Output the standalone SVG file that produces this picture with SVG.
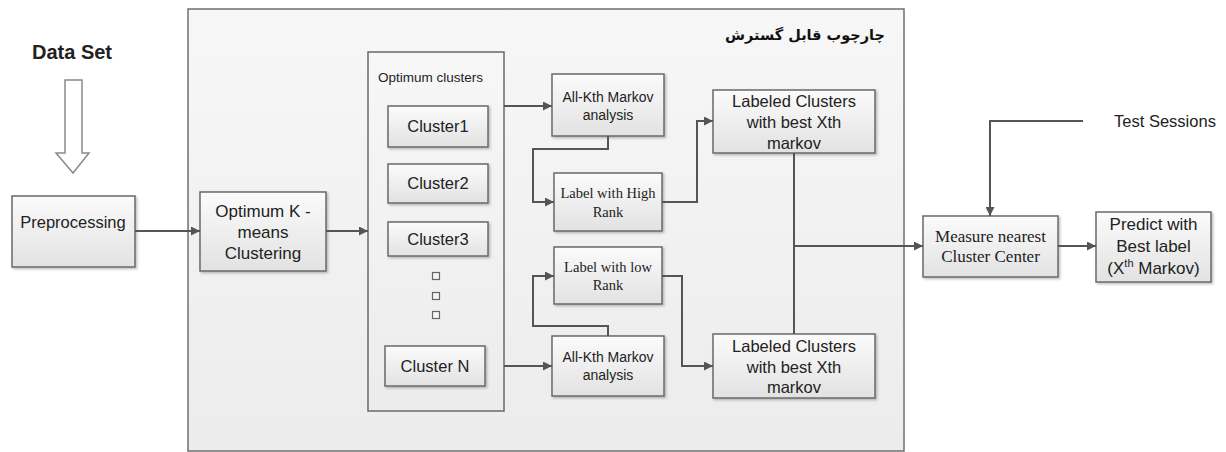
<svg xmlns="http://www.w3.org/2000/svg" width="1226" height="452" viewBox="0 0 1226 452">
  <defs>
    <linearGradient id="boxg" x1="0" y1="0" x2="0" y2="1">
      <stop offset="0" stop-color="#fbfbfb"/>
      <stop offset="1" stop-color="#e2e2e2"/>
    </linearGradient>
    <linearGradient id="frameg" x1="0" y1="0" x2="0" y2="1">
      <stop offset="0" stop-color="#f7f7f7"/>
      <stop offset="1" stop-color="#ececec"/>
    </linearGradient>
    <filter id="sh" x="-10%" y="-10%" width="130%" height="130%">
      <feDropShadow dx="1.5" dy="1.5" stdDeviation="1" flood-color="#000" flood-opacity="0.25"/>
    </filter>
    <marker id="arr" viewBox="0 0 10 10" refX="10" refY="5" markerWidth="9" markerHeight="9" markerUnits="userSpaceOnUse" orient="auto">
      <path d="M0,0 L10,5 L0,10 Z" fill="#555"/>
    </marker>
    <style>
      .box { fill: url(#boxg); stroke: #6a6a6a; stroke-width: 1.5; filter: url(#sh); }
      .frame { fill: url(#frameg); stroke: #707070; stroke-width: 1.5; }
      .inner { fill: url(#frameg); stroke: #6a6a6a; stroke-width: 1.5; }
      .sq { fill: #f4f4f4; stroke: #666; stroke-width: 1.2; }
      .t { font-family: "Liberation Sans", Arial, sans-serif; fill: #222; text-anchor: middle; dominant-baseline: central; }
      .s { font-family: "Liberation Serif", "Times New Roman", serif; fill: #222; text-anchor: middle; dominant-baseline: central; }
      .c { fill: none; stroke: #555; stroke-width: 2; }
      .ca { fill: none; stroke: #555; stroke-width: 2; marker-end: url(#arr); }
    </style>
  </defs>
  <rect x="0" y="0" width="1226" height="452" fill="#ffffff"/>

  <g id="frame">
    <rect class="frame" x="188" y="9" width="716" height="442"/>
    <text x="805" y="35" font-family="'DejaVu Sans', 'Noto Sans', sans-serif" font-weight="bold" font-size="14.5" fill="#111" text-anchor="middle" dominant-baseline="central" direction="rtl">چارچوب قابل گسترش</text>
  </g>

  <g id="dataset">
    <text class="t" x="72" y="52" font-size="20" font-weight="bold" fill="#111">Data Set</text>
    <path d="M65,80 L82,80 L82,153 L89,153 L73,173 L56,153 L65,153 Z" fill="#ffffff" stroke="#8a8a8a" stroke-width="1.5"/>
  </g>

  <g id="preprocessing">
    <rect class="box" x="12" y="196" width="123" height="71"/>
    <text class="t" x="73" y="222" font-size="16.5">Preprocessing</text>
  </g>

  <g id="kmeans">
    <rect class="box" x="200" y="192" width="126" height="79"/>
    <text class="t" x="263" y="211" font-size="17">Optimum K -</text>
    <text class="t" x="263" y="232" font-size="17">means</text>
    <text class="t" x="263" y="253" font-size="17">Clustering</text>
  </g>

  <g id="optimum-clusters">
    <rect class="inner" x="368" y="52" width="136" height="359"/>
    <text class="t" x="430.5" y="77" font-size="13.5">Optimum clusters</text>
  </g>

  <g id="cluster1">
    <rect class="box" x="388" y="106" width="100" height="41"/>
    <text class="t" x="438" y="126" font-size="16.5">Cluster1</text>
  </g>
  <g id="cluster2">
    <rect class="box" x="388" y="164" width="100" height="39"/>
    <text class="t" x="438" y="183" font-size="16.5">Cluster2</text>
  </g>
  <g id="cluster3">
    <rect class="box" x="388" y="222" width="100" height="34"/>
    <text class="t" x="438" y="239" font-size="16.5">Cluster3</text>
  </g>
  <g id="dots">
    <rect class="sq" x="432.5" y="272.5" width="7" height="7"/>
    <rect class="sq" x="432.5" y="292.5" width="7" height="7"/>
    <rect class="sq" x="432.5" y="311.5" width="7" height="7"/>
  </g>
  <g id="clusterN">
    <rect class="box" x="385" y="346" width="100" height="40"/>
    <text class="t" x="435" y="366" font-size="16.5">Cluster N</text>
  </g>

  <g id="allkth-top">
    <rect class="box" x="552" y="74" width="112" height="62"/>
    <text class="t" x="608" y="97" font-size="14">All-Kth Markov</text>
    <text class="t" x="608" y="115" font-size="14">analysis</text>
  </g>
  <g id="label-high">
    <rect class="box" x="554" y="173" width="108" height="58"/>
    <text class="s" x="608" y="193" font-size="14.5">Label with High</text>
    <text class="s" x="608" y="212" font-size="14.5">Rank</text>
  </g>
  <g id="label-low">
    <rect class="box" x="554" y="247" width="108" height="57"/>
    <text class="s" x="608" y="267" font-size="14.5">Label with low</text>
    <text class="s" x="608" y="285" font-size="14.5">Rank</text>
  </g>
  <g id="allkth-bottom">
    <rect class="box" x="552" y="336" width="112" height="60"/>
    <text class="t" x="608" y="357" font-size="14">All-Kth Markov</text>
    <text class="t" x="608" y="375" font-size="14">analysis</text>
  </g>

  <g id="labeled-top">
    <rect class="box" x="713" y="90" width="162" height="63"/>
    <text class="t" x="794" y="101" font-size="16.5">Labeled Clusters</text>
    <text class="t" x="794" y="122" font-size="16.5">with best Xth</text>
    <text class="t" x="794" y="143" font-size="16.5">markov</text>
  </g>
  <g id="labeled-bottom">
    <rect class="box" x="713" y="334" width="162" height="64"/>
    <text class="t" x="794" y="346" font-size="16.5">Labeled Clusters</text>
    <text class="t" x="794" y="367" font-size="16.5">with best Xth</text>
    <text class="t" x="794" y="387" font-size="16.5">markov</text>
  </g>

  <g id="measure">
    <rect class="box" x="923" y="216" width="135" height="61"/>
    <text class="s" x="990.5" y="236" font-size="17">Measure nearest</text>
    <text class="s" x="990.5" y="256" font-size="17">Cluster Center</text>
  </g>
  <g id="predict">
    <rect class="box" x="1096" y="212" width="115" height="70"/>
    <text class="t" x="1153.5" y="224" font-size="17">Predict with</text>
    <text class="t" x="1153.5" y="246" font-size="17">Best label</text>
    <text class="t" x="1153.5" y="268" font-size="17">(X<tspan font-size="11" dy="-5">th</tspan><tspan dy="5"> Markov)</tspan></text>
  </g>

  <g id="test-sessions">
    <text class="t" x="1165" y="121" font-size="16.5">Test Sessions</text>
  </g>

  <g id="connectors">
    <path class="ca" d="M135,231 L200,231"/>
    <path class="ca" d="M326,231 L368,231"/>
    <path class="ca" d="M504,106 L552,106"/>
    <path class="ca" d="M608,136 L608,149 L533,149 L533,202 L554,202"/>
    <path class="ca" d="M662,202 L697,202 L697,121 L713,121"/>
    <path class="ca" d="M504,366 L552,366"/>
    <path class="ca" d="M608,336 L608,326 L533,326 L533,276 L554,276"/>
    <path class="ca" d="M662,276 L682,276 L682,366 L713,366"/>
    <path class="c" d="M794,153 L794,334"/>
    <path class="ca" d="M794,246 L923,246"/>
    <path class="ca" d="M1083,121 L990,121 L990,216"/>
    <path class="ca" d="M1058,246 L1096,246"/>
  </g>
</svg>
